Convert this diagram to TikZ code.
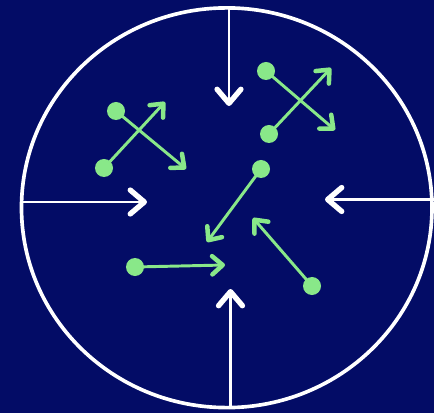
\documentclass[tikz,border=0pt]{standalone}
\usepackage{tikz}
\usetikzlibrary{positioning, shapes.geometric, arrows.meta}
\definecolor{navy}{RGB}{3,12,102}
\definecolor{mint}{RGB}{137,232,137}
\tikzset{>=latex}
\tikzset{
    rimline/.style={draw=white, line width=2.6pt, ellipse, inner sep=0pt},
    push/.style={white, line width=2.1pt,
        -{Straight Barb[length=10pt, width=17pt, line width=3.8pt, round]}},
    particle/.style={circle, fill=mint, inner sep=0pt, minimum size=0.45cm},
    move/.style={mint, line width=2.1pt,
        -{Straight Barb[length=7.5pt, width=13pt, line width=3.2pt, round]}}
}

\begin{document}
\begin{tikzpicture}[x=0.025cm, y=-0.025cm]
    \fill[navy] (0,0) rectangle (434,413);
    \useasboundingbox (0,0) rectangle (434,413);

    % container
    \node[rimline, minimum width=10.26cm, minimum height=9.99cm] (rim) at (226.75,207.75) {};

    % inward pressure
    \coordinate (tipN) at (229,106);
    \coordinate (tipW) at (147,202);
    \coordinate (tipE) at (325,199.5);
    \coordinate (tipS) at (230.5,289);
    \draw[push] (rim.north -| tipN) -- (tipN);
    \draw[push] (rim.west |- tipW) -- (tipW);
    \draw[push] (rim.east |- tipE) -- (tipE);
    \draw[push] (rim.south -| tipS) -- (tipS);

    % particles
    \node[particle] (p1) at (116,111) {};
    \node[particle] (p2) at (104,168) {};
    \node[particle] (p3) at (266,71) {};
    \node[particle] (p4) at (269,134) {};
    \node[particle] (p5) at (261,169) {};
    \node[particle] (p6) at (312,286) {};
    \node[particle] (p7) at (135,267) {};

    \coordinate (v1) at (186,169);
    \coordinate (v2) at (165,102);
    \coordinate (v3) at (335,130);
    \coordinate (v4) at (331,68);
    \coordinate (v5) at (207,242);
    \coordinate (v6) at (253,218);
    \coordinate (v7) at (225,265);

    \foreach \i in {1,...,7}
        \draw[move] (p\i.center) -- (v\i);
\end{tikzpicture}
\end{document}
